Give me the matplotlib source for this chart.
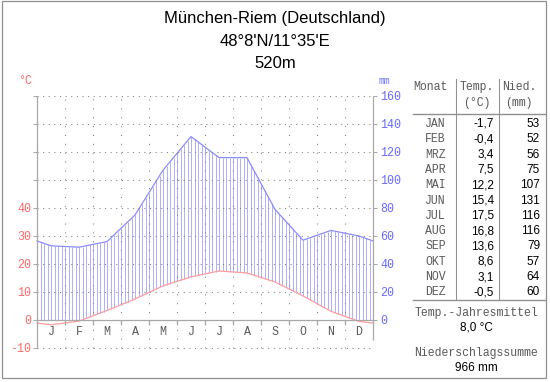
import matplotlib
matplotlib.use('Agg')
import matplotlib.pyplot as plt
from matplotlib.lines import Line2D
from matplotlib.patches import Rectangle
import numpy as np

# Klimadiagramm München-Riem
station = "München-Riem (Deutschland)"
coords = "48°8'N/11°35'E"
elevation = "520m"

months = ["J", "F", "M", "A", "M", "J", "J", "A", "S", "O", "N", "D"]
month_abbr = ["JAN", "FEB", "MRZ", "APR", "MAI", "JUN",
              "JUL", "AUG", "SEP", "OKT", "NOV", "DEZ"]
temp = [-1.7, -0.4, 3.4, 7.5, 12.2, 15.4, 17.5, 16.8, 13.6, 8.6, 3.1, -0.5]
prec = [53, 52, 56, 75, 107, 131, 116, 116, 79, 57, 64, 60]

temp_ticks = [-10, 0, 10, 20, 30, 40, 50, 60, 70, 80]
temp_labels = ["-10", "0", "10", "20", "30", "40", "", "", "", ""]
prec_ticks = [0, 20, 40, 60, 80, 100, 120, 140, 160]

W, H = 550, 382
MONO = 'Liberation Mono'
SANS = 'Liberation Sans'
AXIS = '#a8a8a8'
DOT = '#808080'
RED = '#ff6a6a'
BLUE = '#6a6aff'
TXT = '#5a5a5a'


def fx(x):
    return x / W


def fy(y):
    return 1 - y / H


fig = plt.figure(figsize=(W / 100, H / 100), dpi=100)
ax = fig.add_axes([fx(37), fy(348), (373 - 37) / W, (348 - 96) / H])
ax2 = ax.twinx()
ax.set_zorder(ax2.get_zorder() + 1)
ax.patch.set_visible(False)

ax.set_xlim(0, 12)
ax.set_ylim(-10, 80)
ax2.set_ylim(-20, 160)
for a in (ax, ax2):
    for s in a.spines.values():
        s.set_visible(False)
ax.set_xticks([])

# Kurven bis an den Rand fortsetzen (Mittel aus Dez/Jan)
xm = np.arange(12) + 0.5
xe = np.concatenate([[0], xm, [12]])
t_edge = (temp[0] + temp[-1]) / 2
p_edge = (prec[0] + prec[-1]) / 2
te = np.concatenate([[t_edge], temp, [t_edge]])
pe = np.concatenate([[p_edge], prec, [p_edge]])

# Gitter
ax.hlines([t for t in temp_ticks if t != 0], 0, 12, colors=DOT,
          linestyles=(0, (1, 4.4)), lw=0.75, clip_on=False)
ax.vlines(range(1, 12), -10, 80, colors=DOT,
          linestyles=(0, (1, 7.5)), lw=0.75, clip_on=False)

# humide Schraffur
xh = np.linspace(0, 12, 97)
top = np.interp(xh, xe, pe)
bot = 2 * np.maximum(np.interp(xh, xe, te), 0)
mask = top > bot
ax2.vlines(xh[mask], bot[mask], top[mask], colors='#aeaeff', lw=0.7)
ax2.plot(xe, pe, color='#8c8cff', lw=0.9, clip_on=False)
ax.plot(xe, te, color='#ff9c9c', lw=0.9, clip_on=False)

# Achsen
ax.vlines(0, -10, 80, colors=AXIS, lw=0.9, clip_on=False)
ax.vlines(12, -7, 80, colors=AXIS, lw=0.9, clip_on=False)
ax.hlines(0, 0, 12, colors=AXIS, lw=0.9, clip_on=False)
ax.vlines(range(1, 12), -1.8, 0, colors=AXIS, lw=0.9, clip_on=False)

ax.set_yticks(temp_ticks, temp_labels, fontfamily=MONO)
ax.tick_params(axis='y', length=3, width=0.75, color=AXIS, pad=1,
               labelsize=8.4, labelcolor=RED)
ax2.set_yticks(prec_ticks, [str(p) for p in prec_ticks], fontfamily=MONO)
ax2.tick_params(axis='y', length=3, width=0.75, color=AXIS, pad=2,
                labelsize=8.4, labelcolor=BLUE)

for i, m in enumerate(months):
    ax.text(i + 0.5, -4.4, m, ha='center', va='center', fontsize=8.4,
            family=MONO, color=TXT)

fig.text(fx(25), fy(81), "°C", ha='center', va='center', fontsize=8.4,
         family=MONO, color=RED)
fig.text(fx(384), fy(81), "mm", ha='center', va='center', fontsize=7,
         family=MONO, color=BLUE)

# Titel
fig.text(fx(275), fy(18), station, ha='center', va='center', fontsize=12, family=SANS)
fig.text(fx(275), fy(41), coords, ha='center', va='center', fontsize=12, family=SANS)
fig.text(fx(275), fy(63), elevation, ha='center', va='center', fontsize=12, family=SANS)

# Tabelle
LINE = '#909090'
fig.text(fx(430), fy(87), "Monat", ha='center', va='center', fontsize=8.3, family=MONO, color=TXT)
fig.text(fx(477), fy(87), "Temp.", ha='center', va='center', fontsize=8.3, family=MONO, color=TXT)
fig.text(fx(477), fy(103), "(°C)", ha='center', va='center', fontsize=8.3, family=MONO, color=TXT)
fig.text(fx(519), fy(87), "Nied.", ha='center', va='center', fontsize=8.3, family=MONO, color=TXT)
fig.text(fx(519), fy(103), "(mm)", ha='center', va='center', fontsize=8.3, family=MONO, color=TXT)
fig.add_artist(Line2D([fx(413), fx(545)], [fy(114), fy(114)], color=LINE, lw=1.0))
fig.add_artist(Line2D([fx(413), fx(545)], [fy(300), fy(300)], color=LINE, lw=1.0))
for xs in (456, 499):
    fig.add_artist(Line2D([fx(xs), fx(xs)], [fy(79), fy(300)], color=LINE, lw=0.75))

for i in range(12):
    y = fy(124 + 15.3 * i)
    fig.text(fx(446), y, month_abbr[i], ha='right', va='center', fontsize=8.3,
             family=MONO, color=TXT)
    fig.text(fx(494), y, f"{temp[i]:.1f}".replace('.', ','), ha='right', va='center',
             fontsize=8.5, family=SANS)
    fig.text(fx(540), y, str(prec[i]), ha='right', va='center', fontsize=8.5, family=SANS)

mean_t = sum(temp) / len(temp)
sum_p = sum(prec)
fig.text(fx(476), fy(313), "Temp.-Jahresmittel", ha='center', va='center',
         fontsize=8.3, family=MONO, color=TXT)
fig.text(fx(476), fy(328), f"{mean_t:.1f} °C".replace('.', ','), ha='center',
         va='center', fontsize=8.5, family=SANS)
fig.text(fx(476), fy(353), "Niederschlagssumme", ha='center', va='center',
         fontsize=8.3, family=MONO, color=TXT)
fig.text(fx(476), fy(368), f"{sum_p} mm", ha='center', va='center',
         fontsize=8.5, family=SANS)

# Rahmen
fig.add_artist(Rectangle((fx(2), fy(378)), (546 - 2) / W, (378 - 1) / H,
                         fill=False, edgecolor='#909090', lw=0.9))

fig.savefig('out.png', dpi=100)
